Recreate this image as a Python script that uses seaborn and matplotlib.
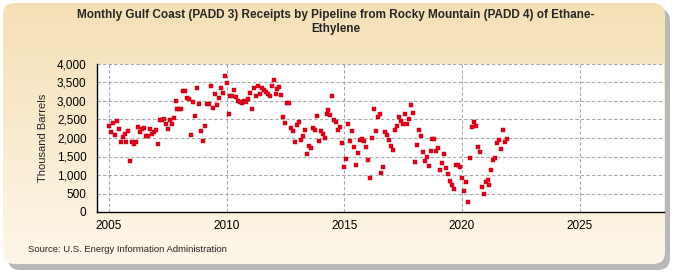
import numpy as np
import pandas as pd
import matplotlib
matplotlib.use("Agg")
import matplotlib.pyplot as plt
import matplotlib.dates as mdates
from matplotlib.patches import FancyBboxPatch
import seaborn as sns

# monthly receipts, thousand barrels, Jan 2005 .. Dec 2021
values = [
    2333, 2162, 2414, 2072, 2450, 2252, 1892, 2036, 2117, 1892, 2189, 1387,
    1892, 1829, 1892, 2306, 2171, 2243, 2279, 2045, 2045, 2243, 2117, 2171,
    2225, 1829, 2477, 2477, 2513, 2378, 2243, 2477, 2378, 2532, 3009, 2775,
    2784, 2793, 3261, 3279, 3090, 3054, 2081, 2982, 2604, 3360, 2919, 2189,
    1928, 2333, 2919, 2919, 3414, 2820, 3189, 2892, 3072, 3351, 3225, 3685,
    3496, 2649, 3135, 3135, 3306, 3099, 3000, 2964, 2955, 3009, 2973, 3045,
    3225, 2775, 3360, 3135, 3414, 3198, 3360, 3288, 3243, 3198, 3144, 3414,
    3577, 3198, 3333, 3369, 3171, 2559, 2414, 2955, 2955, 2279, 2189, 1901,
    2360, 2441, 1946, 2063, 2216, 1568, 1793, 1730, 2279, 2225, 2604, 1928,
    2198, 2117, 2009, 2649, 2766, 2631, 3144, 2495, 2441, 2225, 2306, 1874,
    1225, 1441, 2387, 1928, 2198, 1766, 1279, 1604, 1955, 1982, 1928, 1766,
    1405, 928, 2009, 2793, 2198, 2577, 2649, 1045, 1225, 2171, 2081, 1955,
    1793, 1685, 2225, 2333, 2577, 2468, 2387, 2658, 2387, 2523, 2901, 2685,
    1360, 1820, 2225, 2063, 1631, 1387, 1495, 1252, 1658, 1982, 1982, 1658,
    1739, 1144, 1333, 1577, 1198, 1036, 847, 730, 622, 1270, 1279, 1225,
    928, 577, 820, 279, 1468, 2306, 2441, 2333, 1766, 1631, 685, 495,
    820, 865, 739, 1144, 1405, 1468, 1874, 1946, 1712, 2225, 1901, 1982,
]
start_month = "2005-01-01"
year_ticks = [2005, 2010, 2015, 2020, 2025]
y_ticks = [0, 500, 1000, 1500, 2000, 2500, 3000, 3500, 4000]

df = pd.DataFrame({
    "date": pd.date_range(start_month, periods=len(values), freq="MS"),
    "value": values,
})

sns.set_style("white")
plt.rcParams["font.family"] = ["Liberation Sans", "DejaVu Sans"]

fig = plt.figure(figsize=(6.75, 2.75), dpi=100)
fig.patch.set_facecolor("white")

# background panel with gradient + shadow
bg = fig.add_axes([0, 0, 1, 1], zorder=-10)
bg.set_xlim(0, 675)
bg.set_ylim(275, 0)
bg.axis("off")
shadow = FancyBboxPatch((8, 9), 662, 261, boxstyle="round,pad=0,rounding_size=12",
                        fc="#b8b8b8", ec="none")
bg.add_patch(shadow)
panel = FancyBboxPatch((3, 3), 662, 261, boxstyle="round,pad=0,rounding_size=12",
                       fc="none", ec="none")
bg.add_patch(panel)
grad = np.linspace(0, 1, 256)[:, None]
top_c = np.array([245, 224, 182]) / 255
bot_c = np.array([253, 246, 233]) / 255
img = top_c[None, None, :] * (1 - grad[..., None]) + bot_c[None, None, :] * grad[..., None]
im = bg.imshow(img, extent=[3, 665, 264, 3], aspect="auto", zorder=1)
im.set_clip_path(panel)

ax = fig.add_axes([97 / 675, 1 - 212 / 275, (664 - 97) / 675, (212 - 64) / 275])
ax.set_facecolor("white")
sns.scatterplot(data=df, x="date", y="value", ax=ax, marker="s", s=10,
                color="#e3001b", edgecolor="#b00010", linewidth=0.3, zorder=3)

ax.set_xlim(pd.Timestamp("2004-07-01"), pd.Timestamp("2028-08-01"))
ax.set_ylim(0, 4000)
ax.set_xticks([pd.Timestamp(f"{y}-01-01") for y in year_ticks])
ax.xaxis.set_major_formatter(mdates.DateFormatter("%Y"))
ax.set_yticks(y_ticks)
ax.set_yticklabels([f"{v:,}" for v in y_ticks])
ax.grid(True, color="#a8a8a8", linestyle=(0, (3, 2)), linewidth=0.8)
ax.set_axisbelow(True)
for s in ["top", "right"]:
    ax.spines[s].set_visible(False)
for s in ["left", "bottom"]:
    ax.spines[s].set_color("black")
    ax.spines[s].set_linewidth(1.0)
ax.tick_params(axis="both", length=4, width=0.8, color="black", labelsize=8.5,
               labelcolor="black", direction="out")
ax.tick_params(axis="x", pad=2)
ax.set_xlabel("")
ax.set_ylabel("Thousand Barrels", fontsize=8, labelpad=6)

fig.text(0.497, 1 - 22 / 275,
         "Monthly Gulf Coast (PADD 3) Receipts by Pipeline from Rocky Mountain (PADD 4) of Ethane-\nEthylene",
         ha="center", va="center", fontsize=8.5, fontweight="bold", linespacing=1.3)
fig.text(28 / 675, 1 - 250 / 275, "Source: U.S. Energy Information Administration",
         ha="left", va="center", fontsize=6.8)

fig.savefig("out.png", dpi=100)
